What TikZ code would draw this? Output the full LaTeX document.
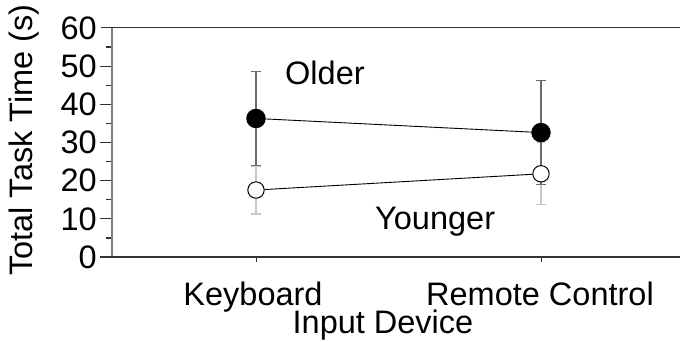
\documentclass[tikz,border=0pt]{standalone}
\usepackage{fontspec}
\setmainfont{Liberation Sans}
\begin{document}
\begin{tikzpicture}[x=1pt,y=-1pt,
  declare function={yp(\v)=257-3.8167*\v;},
  lbl/.style={inner sep=0pt,font=\fontsize{32.5}{32.5}\selectfont},
  ticklbl/.style={lbl,anchor=east},
  axisline/.style={line width=2pt,color=black!80},
  yaxisline/.style={line width=2pt,color=black!50},
  tickmark/.style={line width=1.2pt,color=black!80},
  olderbar/.style={line width=1.2pt,color=black!58},
  youngerbar/.style={line width=1.2pt,color=black!22},
  olderpt/.style={circle,fill=black,draw=black,line width=0.8pt,minimum size=18.6pt,inner sep=0pt},
  youngerpt/.style={circle,fill=white,draw=black,line width=1pt,minimum size=16.4pt,inner sep=0pt},
  trend/.style={line width=0.9pt,color=black}]
\useasboundingbox (0,0) rectangle (680,341);

% axes and frame
\draw[yaxisline] (111.5,28) -- (111.5,257);
\draw[line width=1.2pt,color=black!80] (101,27.7) -- (680,27.7);
\draw[axisline] (100,256.8) -- (680,256.8);

% y ticks and labels
\foreach \v in {0,10,...,50}
  \draw[tickmark] (100,{yp(\v)}) -- (111,{yp(\v)});
\foreach \v in {5,15,...,55}
  \draw[tickmark] (106,{yp(\v)}) -- (111,{yp(\v)});
\foreach \v in {0,10,...,60}
  \node[ticklbl] at (97,{yp(\v)}) {\v};

% x ticks
\draw[tickmark,line width=0.8pt] (256,257) -- (256,262);
\draw[tickmark,line width=0.8pt] (541,257) -- (541,262);

% error bars
\coordinate (ykhi) at (256,{yp(17.55+6.3)});
\coordinate (yklo) at (256,{yp(17.55-6.3)});
\coordinate (yrhi) at (541,{yp(21.8+8.1)});
\coordinate (yrlo) at (541,{yp(21.8-8.1)});
\coordinate (okhi) at (256,{yp(36.3+12.4)});
\coordinate (oklo) at (256,{yp(36.3-12.4)});
\coordinate (orhi) at (541,{yp(32.6+13.6)});
\coordinate (orlo) at (541,{yp(32.6-13.6)});

\foreach \c in {ykhi,yklo,yrhi,yrlo}
  \draw[youngerbar] ([xshift=-5pt]\c) -- ([xshift=5pt]\c);
\draw[youngerbar] (ykhi) -- (yklo);
\draw[youngerbar] (yrhi) -- (yrlo);
\foreach \c in {okhi,oklo,orhi,orlo}
  \draw[olderbar] ([xshift=-5pt]\c) -- ([xshift=5pt]\c);
\draw[olderbar] (okhi) -- (oklo);
\draw[olderbar] (orhi) -- (orlo);

% means
\node[olderpt] (ok) at (256,{yp(36.3)}) {};
\node[olderpt] (or) at (541,{yp(32.6)}) {};
\node[youngerpt] (yk) at (256,{yp(17.55)}) {};
\node[youngerpt] (yr) at (541,{yp(21.8)}) {};
\draw[trend] (ok) -- (or);
\draw[trend] (yk) -- (yr);

% group labels
\node[lbl,anchor=base west] (older) at (285,84) {Older};
\node[lbl,anchor=base west] (younger) at (375,229) {Younger};

% axis labels
\node[lbl,anchor=base] (kb) at (253,305) {Keyboard};
\node[lbl,anchor=base] (rc) at (540,305) {Remote Control};
\node[lbl,anchor=base] (xt) at (383,333.5) {Input Device};
\node[lbl,anchor=base,rotate=90] (yt) at (32,140) {Total Task Time (s)};
\end{tikzpicture}
\end{document}
